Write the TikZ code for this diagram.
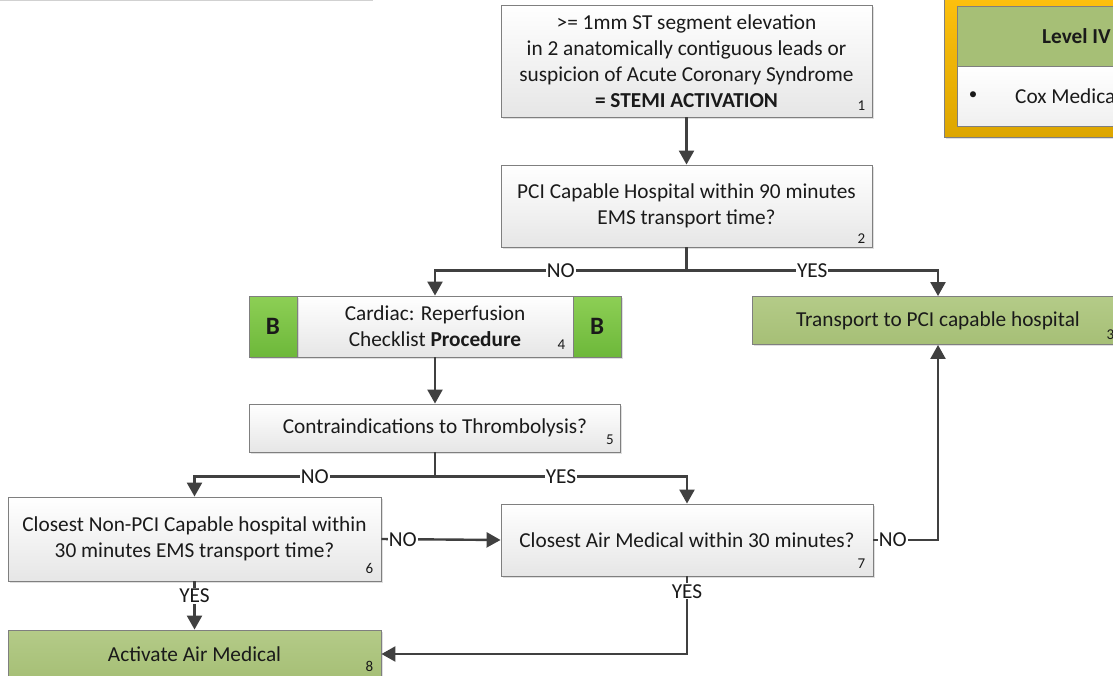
\documentclass[tikz,border=0pt]{standalone}
\usepackage{fontspec}
\setmainfont{Carlito}
\usetikzlibrary{arrows.meta,shadows,calc}
\definecolor{ink}{HTML}{1A1A1A}
\definecolor{wire}{HTML}{404040}
\definecolor{boxline}{HTML}{7F7F7F}
\definecolor{boxbot}{HTML}{E6E6E6}
\definecolor{olivetop}{HTML}{B4CB88}
\definecolor{olivebot}{HTML}{A6BF76}
\definecolor{limetop}{HTML}{8DCF55}
\definecolor{limebot}{HTML}{6DB83A}
\definecolor{goldtop}{HTML}{FFC20E}
\definecolor{goldbot}{HTML}{DDA600}
\tikzset{
  boxtext/.style={font=\fontsize{21.3}{26}\selectfont, text=ink},
  box/.style={draw=boxline, line width=0.9pt, top color=white, bottom color=boxbot,
    align=center, inner sep=0pt, boxtext,
    drop shadow={shadow xshift=1.5pt, shadow yshift=-1.5pt, opacity=0.25}},
  greenbox/.style={box, top color=olivetop, bottom color=olivebot},
  bbox/.style={box, top color=limetop, bottom color=limebot,
    font=\fontsize{25}{25}\selectfont\bfseries},
  num/.style={font=\fontsize{15}{15}\selectfont, text=ink},
  wireline/.style={draw=wire, line width=2.4pt},
  flow/.style={wireline, -{Triangle[length=14pt,width=15pt]}},
  lbl/.style={fill=white, inner sep=1pt, boxtext},
}
\begin{document}
\begin{tikzpicture}[x=1pt,y=-1pt]
\useasboundingbox (0,0) rectangle (1113,675);
\fill[white] (0,0) rectangle (1113,675);

% shadow edge of a panel above the page
\draw[black!18, line width=1.6pt] (0,0.5) -- (373,0.5);

% level panel
\node[draw=boxline, line width=0.9pt, top color=goldtop, bottom color=goldbot,
  minimum width=190pt, minimum height=150pt, inner sep=0pt,
  drop shadow={shadow xshift=1.5pt, shadow yshift=-2pt, opacity=0.25}]
  (panel) at (1039,62) {};
\node[draw=boxline, line width=0.9pt, fill=olivebot, minimum width=180pt,
  minimum height=60pt, inner sep=0pt] (panelhead) at (1047,36) {};
\node[draw=boxline, line width=0.9pt, top color=white, bottom color=black!6,
  minimum width=180pt, minimum height=60pt, inner sep=0pt] (panelrow) at (1047,96) {};
\node[boxtext, font=\fontsize{21.3}{26}\selectfont\bfseries, anchor=west, inner sep=0pt] (leveltxt) at (1042,36) {Level IV};
\node[boxtext, font=\fontsize{17}{20}\selectfont, anchor=center] (bullet) at (973,96) {•};
\node[boxtext, anchor=west, inner sep=0pt] (coxtxt) at (1015,96) {Cox Medica};

% flow boxes
\node[box, minimum width=371pt, minimum height=112pt] (b1) at (686.5,61)
  {>= 1mm ST segment elevation\\in 2 anatomically contiguous leads or\\suspicion of Acute Coronary Syndrome\\\textbf{= STEMI ACTIVATION}};
\node[box, minimum width=371pt, minimum height=82pt] (b2) at (686.5,206)
  {PCI Capable Hospital within 90 minutes\\EMS transport time?};
\node[greenbox, minimum width=372pt, minimum height=48pt] (b3) at (938,320.5)
  {Transport to PCI capable hospital};
\node[box, minimum width=276pt, minimum height=61pt] (b4) at (435,326.5)
  {Cardiac: Reperfusion\\Checklist \textbf{Procedure}};
\node[bbox, minimum width=48pt, minimum height=61pt] (b4l) at (273,326.5) {B};
\node[bbox, minimum width=48pt, minimum height=61pt] (b4r) at (597,326.5) {B};
\node[box, minimum width=371pt, minimum height=48pt] (b5) at (435,428)
  {Contraindications to Thrombolysis?};
\node[box, minimum width=373pt, minimum height=84pt] (b6) at (194.5,539)
  {Closest Non-PCI Capable hospital within\\30 minutes EMS transport time?};
\node[box, minimum width=372pt, minimum height=72pt] (b7) at (687,540)
  {Closest Air Medical within 30 minutes?};
\node[greenbox, minimum width=373pt, minimum height=48pt] (b8) at (194.5,654)
  {Activate Air Medical};

% step numbers
\node[num] (n1) at ($(b1.south east)+(-11,-12)$) {1};
\node[num] (n2) at ($(b2.south east)+(-11,-9)$) {2};
\node[num] (n3) at ($(b3.south east)+(-14,-10)$) {3};
\node[num] (n4) at ($(b4.south east)+(-12,-13)$) {4};
\node[num] (n5) at ($(b5.south east)+(-11,-13)$) {5};
\node[num] (n6) at ($(b6.south east)+(-12,-13)$) {6};
\node[num] (n7) at ($(b7.south east)+(-12,-13)$) {7};
\node[num] (n8) at ($(b8.south east)+(-12,-12)$) {8};

% connectors
\coordinate (j2) at ($(b2.south)+(0,23)$);
\coordinate (j5) at ($(b5.south)+(0,24)$);

\draw[flow] (b1.south) -- (b2.north);
\draw[wireline] (b2.south) -- (j2);
\draw[flow] (j2) -- node[lbl] {NO} (j2 -| b4.north) -- (b4.north);
\draw[flow] (j2) -- node[lbl] {YES} (j2 -| b3.north) -- (b3.north);
\draw[flow] (b4.south) -- (b5.north);
\draw[wireline] (b5.south) -- (j5);
\draw[flow] (j5) -- node[lbl] {NO} (j5 -| b6.north) -- (b6.north);
\draw[flow] (j5) -- node[lbl] {YES} (j5 -| b7.north) -- (b7.north);
\draw[flow] (b6.east) -- node[lbl, pos=0.18] {NO} (b7.west);
\draw[flow] (b7.east) -- node[lbl, pos=0.3] {NO} (b7.east -| b3.south) -- (b3.south);
\draw[flow] (b6.south) -- node[lbl, pos=0.3] {YES} (b8.north);
\draw[flow] (b7.south) -- node[lbl, pos=0.19] {YES} (b7.south |- b8.east) -- (b8.east);
\end{tikzpicture}
\end{document}
